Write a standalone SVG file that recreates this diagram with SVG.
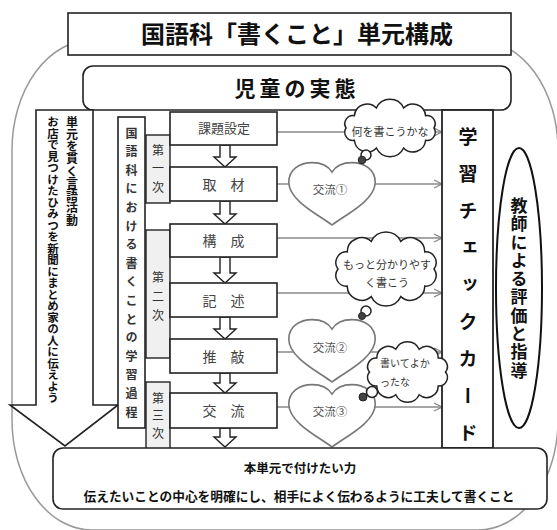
<svg xmlns="http://www.w3.org/2000/svg" width="557" height="530" viewBox="0 0 557 530">
<defs>
<style>
text{font-family:'Noto Sans CJK JP','Noto Sans CJK SC',sans-serif;}
.bx{fill:#fff;stroke:#222;stroke-width:1.6}
.stage{fill:#f0f0f0;stroke:#222;stroke-width:1.4}
.vt{writing-mode:vertical-rl}
.conn{stroke:#888;stroke-width:1.3;fill:none}
.heart{fill:#fff;stroke:#777;stroke-width:1.6}
.cloud{fill:#fff;stroke:#222;stroke-width:1.5}
.dn{fill:#fff;stroke:#222;stroke-width:1.4}
.proc{font-size:14px;fill:#444;text-anchor:middle}
.ht{font-size:11.5px;fill:#555;text-anchor:middle}
.ct{font-size:11px;fill:#333}
</style>
<marker id="ah" markerWidth="10" markerHeight="10" refX="9" refY="5" orient="auto" markerUnits="userSpaceOnUse"><path d="M1,1 L9,5 L1,9" fill="none" stroke="#888" stroke-width="1.3"/></marker>
<path id="heartShape" d="M45,63 C34.2,54.2 1.8,39.1 1.8,20.2 C1.8,7.6 12.6,0.6 25.2,0.6 C36,0.6 42.3,5.7 45,10.1 C47.7,5.7 54,0.6 64.8,0.6 C77.4,0.6 88.2,7.6 88.2,20.2 C88.2,39.1 55.8,54.2 45,63 Z"/>
</defs>

<path id="outer" d="M92,40 L478,40 A80,110 0 0 1 558,150 L558,420 A80,110 0 0 1 478,530 L92,530 A80,110 0 0 1 12,420 L12,150 A80,110 0 0 1 92,40 Z" fill="none" stroke="#999" stroke-width="1.5"/>

<g id="title">
<rect x="68" y="13" width="443" height="42" class="bx"/>
<text x="297" y="43" font-size="24" font-weight="bold" text-anchor="middle" fill="#111">国語科「書くこと」単元構成</text>
</g>

<g id="jidou">
<rect x="83" y="66" width="428" height="44" rx="10" class="bx"/>
<text x="297" y="96" font-size="21" font-weight="bold" text-anchor="middle" letter-spacing="4" fill="#111">児童の実態</text>
</g>

<g id="gengo-arrow">
<path d="M36,110 L93,110 L93,405 L118,405 L65,446 L10,405 L36,405 Z" class="bx"/>
<text class="vt" x="72" y="116" font-size="12" font-weight="bold" letter-spacing="0.25" fill="#111">単元を貫く言語活動</text>
<text class="vt" x="53" y="116" font-size="11.5" font-weight="bold" fill="#111">お店で見つけたひみつを新聞にまとめ家の人に伝えよう</text>
</g>

<g id="katei">
<rect x="118" y="117" width="27" height="311" class="bx"/>
<text class="vt" x="131.5" y="127" font-size="12" font-weight="bold" letter-spacing="6.6" fill="#333">国語科における書くことの学習過程</text>
</g>

<g id="stage1">
<rect x="146" y="135" width="24" height="68" class="stage"/>
<text class="vt" x="158" y="144" font-size="12" letter-spacing="6.5" fill="#333">第一次</text>
</g>
<g id="stage2">
<rect x="146" y="230" width="24" height="128" class="stage"/>
<text class="vt" x="158" y="271" font-size="12" letter-spacing="7" fill="#333">第二次</text>
</g>
<g id="stage3">
<rect x="146" y="382" width="24" height="67" class="stage"/>
<text class="vt" x="158" y="392" font-size="12" letter-spacing="5.5" fill="#333">第三次</text>
</g>

<g id="connectors">
<line x1="277" y1="132" x2="442" y2="132" class="conn" marker-end="url(#ah)"/>
<line x1="277" y1="184" x2="442" y2="184" class="conn" marker-end="url(#ah)"/>
<line x1="277" y1="238" x2="442" y2="238" class="conn" marker-end="url(#ah)"/>
<line x1="277" y1="293" x2="442" y2="293" class="conn" marker-end="url(#ah)"/>
<line x1="277" y1="352" x2="442" y2="352" class="conn" marker-end="url(#ah)"/>
<line x1="277" y1="407" x2="442" y2="407" class="conn" marker-end="url(#ah)"/>
<path d="M220,145 L230,145 L230,157 L236,157 L225,167 L214,157 L220,157 Z" class="dn"/>
<path d="M220,201 L230,201 L230,214 L236,214 L225,224 L214,214 L220,214 Z" class="dn"/>
<path d="M220,257 L230,257 L230,273 L236,273 L225,283 L214,273 L220,273 Z" class="dn"/>
<path d="M220,317 L230,317 L230,329 L236,329 L225,339 L214,329 L220,329 Z" class="dn"/>
<path d="M220,373 L230,373 L230,383 L236,383 L225,393 L214,383 L220,383 Z" class="dn"/>
<path d="M220,428 L230,428 L230,437 L236,437 L225,447 L214,437 L220,437 Z" class="dn"/>
</g>

<g id="kadai">
<rect x="170" y="112" width="107" height="33" class="bx"/>
<text x="224" y="133" font-size="13" fill="#444" text-anchor="middle">課題設定</text>
</g>
<g id="shuzai">
<rect x="170" y="167" width="107" height="34" class="bx"/>
<text x="223.5" y="189.5" class="proc">取　材</text>
</g>
<g id="kousei">
<rect x="170" y="224" width="107" height="33" class="bx"/>
<text x="223.5" y="246" class="proc">構　成</text>
</g>
<g id="kijutsu">
<rect x="170" y="283" width="107" height="34" class="bx"/>
<text x="223.5" y="305.5" class="proc">記　述</text>
</g>
<g id="suikou">
<rect x="170" y="339" width="107" height="34" class="bx"/>
<text x="223.5" y="361.5" class="proc">推　敲</text>
</g>
<g id="kouryu">
<rect x="170" y="393" width="107" height="35" class="bx"/>
<text x="223.5" y="416" class="proc">交　流</text>
</g>

<g id="check-card">
<rect x="442" y="110" width="51" height="338" fill="#fff" stroke="#222" stroke-width="1.8"/>
<text class="vt" x="468" y="127.5" font-size="19" font-weight="bold" letter-spacing="18" fill="#111">学習チェックカード</text>
</g>

<g id="kyoushi">
<ellipse cx="519" cy="288" rx="23" ry="140" fill="#fff" stroke="#111" stroke-width="2"/>
<text class="vt" x="519" y="197" font-size="17" font-weight="bold" letter-spacing="1.3" fill="#111">教師による評価と指導</text>
</g>

<g id="heart1">
<use href="#heartShape" x="287" y="162" class="heart"/>
<text x="330" y="194" class="ht">交流①</text>
</g>
<g id="heart2">
<use href="#heartShape" x="287" y="319" class="heart"/>
<text x="330" y="352" class="ht">交流②</text>
</g>
<g id="heart3">
<use href="#heartShape" x="287" y="384" class="heart"/>
<text x="330" y="416" class="ht">交流③</text>
</g>

<g id="cloud1">
<path class="cloud" d="M434,128 A8.2,8.2 0 0 1 425.6,140.3 A12.8,12.8 0 0 1 403.6,148 A15,15 0 0 1 376.4,148 A12.8,12.8 0 0 1 354.4,140.3 A8.2,8.2 0 0 1 346,128 A8.2,8.2 0 0 1 354.4,115.7 A12.8,12.8 0 0 1 376.4,108 A15,15 0 0 1 403.6,108 A12.8,12.8 0 0 1 425.6,115.7 A8.2,8.2 0 0 1 434,128 Z"/>
<circle cx="366" cy="155" r="5" class="cloud"/>
<circle cx="362" cy="160" r="3.8" fill="#444" stroke="#222" stroke-width="1"/>
<text x="390" y="136" class="ct" text-anchor="middle">何を書こうかな</text>
</g>

<g id="cloud2">
<path class="cloud" d="M434,269 A10.7,10.7 0 0 1 424.8,286.1 A14.4,14.4 0 0 1 400.8,296.6 A16.3,16.3 0 0 1 371.2,296.6 A14.4,14.4 0 0 1 347.2,286.1 A10.7,10.7 0 0 1 338,269 A10.7,10.7 0 0 1 347.2,251.9 A14.4,14.4 0 0 1 371.2,241.4 A16.3,16.3 0 0 1 400.8,241.4 A14.4,14.4 0 0 1 424.8,251.9 A10.7,10.7 0 0 1 434,269 Z"/>
<circle cx="366" cy="311" r="5" class="cloud"/>
<circle cx="362" cy="316" r="3.5" fill="#444" stroke="#222" stroke-width="1"/>
<text x="387" y="269" class="ct" text-anchor="middle">もっと分かりやす</text>
<text x="387" y="287" class="ct" text-anchor="middle">く書こう</text>
</g>

<g id="cloud3">
<path class="cloud" d="M445.5,372 A8.7,8.7 0 0 1 438.2,386.1 A11.5,11.5 0 0 1 419.2,394.8 A12.9,12.9 0 0 1 395.8,394.8 A11.5,11.5 0 0 1 376.8,386.1 A8.7,8.7 0 0 1 369.5,372 A8.7,8.7 0 0 1 376.8,357.9 A11.5,11.5 0 0 1 395.8,349.2 A12.9,12.9 0 0 1 419.2,349.2 A11.5,11.5 0 0 1 438.2,357.9 A8.7,8.7 0 0 1 445.5,372 Z"/>
<circle cx="372" cy="392" r="5.5" class="cloud"/>
<circle cx="363" cy="397" r="4" fill="#444" stroke="#222" stroke-width="1"/>
<text x="380" y="367" font-size="10" fill="#333">書いてよか</text>
<text x="380" y="386" font-size="10" fill="#333">ったな</text>
</g>

<g id="goal">
<rect x="53" y="448" width="494" height="61" rx="10" class="bx"/>
<text x="300" y="473" font-size="12.5" font-weight="bold" text-anchor="middle" fill="#111">本単元で付けたい力</text>
<text x="299" y="501" font-size="12.7" font-weight="bold" text-anchor="middle" fill="#111">伝えたいことの中心を明確にし、相手によく伝わるように工夫して書くこと</text>
</g>
</svg>
